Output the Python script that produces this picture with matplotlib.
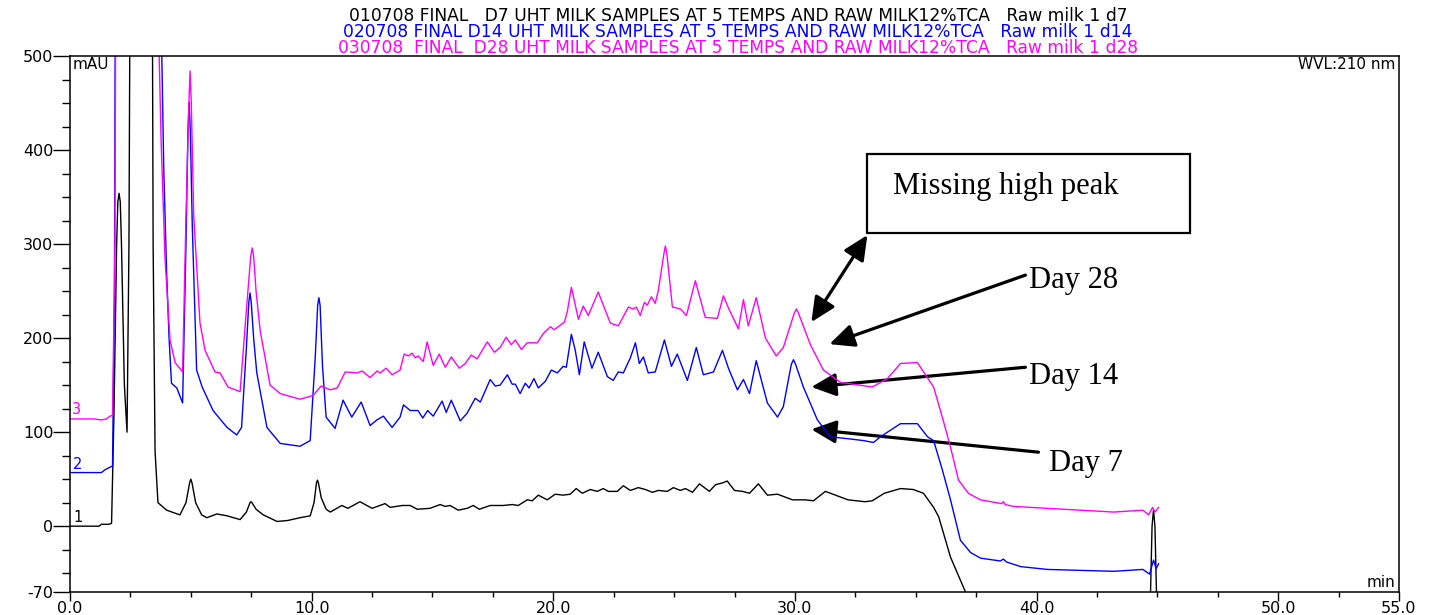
import numpy as np
import matplotlib
matplotlib.use("Agg")
import matplotlib.pyplot as plt
from matplotlib.patches import Rectangle, FancyArrowPatch
from matplotlib.ticker import MultipleLocator, FixedLocator, FormatStrFormatter

"""
Chromatogram overlay: raw milk 1 at day 7, day 14 and day 28 (WVL 210 nm).
Values read off the printed trace by eye.
"""

# Retention time (min) and signal (mAU) for each run
# Day 7 (trace 1)
d7_time = [0.0, 1.2, 1.3, 1.6, 1.72, 1.82, 1.93, 1.98, 2.03, 2.08, 2.13, 2.25, 2.36, 2.44, 2.52,
           3.38, 3.44, 3.52, 3.64, 4.0, 4.55, 4.8, 4.95, 5.0, 5.05, 5.2, 5.45, 5.66, 6.08, 6.5,
           7.04, 7.3, 7.45, 7.49, 7.53, 7.7, 8.0, 8.57, 9.0, 9.52, 9.94, 10.1, 10.2, 10.24,
           10.28, 10.4, 10.6, 10.77, 11.25, 11.5, 12.0, 12.5,
           13.04, 13.25, 13.75, 14.08, 14.37, 14.9, 15.32, 15.53, 15.73, 16.07, 16.44, 16.69,
           16.94, 17.39, 17.93, 18.3, 18.55, 18.92, 19.13, 19.38, 19.75, 20.08, 20.41, 20.7,
           20.95, 21.2, 21.53, 21.82, 22.07, 22.28, 22.65, 22.9, 23.19, 23.52, 23.81, 24.1,
           24.35, 24.72, 24.97, 25.26, 25.47, 25.76, 26.05, 26.46, 26.71, 27.0, 27.2, 27.5,
           27.83, 28.12, 28.49, 28.86, 29.28, 29.9, 30.43, 30.77, 31.26, 31.68, 32.2, 32.9,
           33.2, 33.7, 34.37, 34.9, 35.32, 35.74, 35.95, 36.44, 37.06, 37.3, 44.7, 44.78,
           44.84, 44.9, 44.98, 45.2]
d7_mau = [0, 0, 2, 2, 3, 120, 300, 345, 354, 345, 300, 150, 100, 300, 800,
          800, 300, 80, 25, 17, 12, 25, 46, 50, 46, 25, 12, 9, 13, 11,
          7, 15, 25, 26, 25, 18, 12, 5, 6, 9, 11, 25, 46, 49,
          46, 30, 18, 15, 22, 19, 26, 19,
          24, 20, 22, 22, 18, 19, 23, 21, 22, 17, 19, 22,
          18, 22, 22, 23, 22, 28, 27, 33, 28, 34, 33, 34,
          40, 35, 39, 37, 40, 37, 37, 43, 38, 41, 39, 36,
          38, 37, 41, 38, 40, 36, 45, 37, 44, 46, 48, 38,
          37, 35, 45, 33, 34, 28, 28, 27, 37, 33, 28, 26,
          27, 35, 40, 39, 35, 20, 10, -33, -70, -90, -90, 0,
          17, 0, -90, -90]

# Day 14 (trace 2)
d14_time = [0.0, 1.3, 1.45, 1.6, 1.76, 1.84, 1.9, 3.75, 3.8, 3.88, 4.0, 4.1, 4.2, 4.42, 4.66,
            4.8, 4.88, 4.93, 4.98, 5.06, 5.24, 5.47, 5.92, 6.5, 6.9, 7.1, 7.3, 7.4, 7.45, 7.5,
            7.6, 7.73, 8.15, 8.7, 9.52, 9.94, 10.15, 10.25, 10.3, 10.35, 10.45, 10.6, 10.97,
            11.3, 11.66, 12.05, 12.42, 12.7,
            12.97, 13.33, 13.66, 13.8, 14.08, 14.4, 14.6, 14.8, 15.03, 15.4, 15.57, 15.78,
            16.15, 16.43, 16.77, 16.98, 17.39, 17.6, 17.8, 18.1, 18.3, 18.43, 18.63, 18.84,
            19.0, 19.2, 19.38, 19.67, 19.92, 20.17, 20.41, 20.54, 20.75, 20.91, 21.08, 21.28,
            21.6, 21.86, 22.24, 22.48, 22.69, 22.9, 23.19, 23.4, 23.56, 23.73, 23.93, 24.22,
            24.6, 24.89, 25.13, 25.55, 25.92, 26.21, 26.63, 27.0, 27.25, 27.62, 27.87, 28.12,
            28.4, 28.86, 29.28, 29.52, 29.85, 29.94, 30.03, 30.35, 30.93, 31.47, 32.2, 32.84,
            33.25, 33.54, 33.95, 34.37, 35.07, 35.49, 35.74, 36.1, 36.44, 36.85, 37.27, 37.68,
            38.5, 38.63, 38.75, 39.34, 40.45, 43.2, 44.4, 44.68, 44.84, 44.95, 45.05]
d14_mau = [57, 57, 60, 62, 64, 250, 800, 800, 500, 380, 269, 200, 152, 147, 131,
           300, 420, 451, 420, 320, 166, 148, 123, 105, 97, 105, 190, 238, 248, 238,
           200, 163, 105, 88, 85, 91, 180, 235, 243, 235, 170, 116, 104,
           134, 116, 132, 107, 113,
           117, 105, 116, 129, 123, 123, 115, 123, 117, 133, 121, 134,
           112, 120, 136, 132, 156, 149, 150, 161, 151, 151, 141, 152,
           147, 157, 147, 154, 166, 163, 170, 169, 204, 187, 161, 196,
           168, 185, 159, 155, 164, 163, 179, 195, 173, 180, 163, 164,
           198, 170, 183, 155, 190, 161, 164, 187, 168, 145, 156, 141,
           176, 131, 116, 127, 172, 177, 172, 148, 113, 95, 93, 91,
           89, 95, 102, 109, 109, 95, 91, 60, 28, -15, -28, -34,
           -37, -35, -38, -43, -46, -48, -46, -51, -36, -45, -40]

# Day 28 (trace 3)
d28_time = [0.0, 1.0, 1.3, 1.5, 1.66, 1.76, 1.86, 1.92, 3.65, 3.69, 3.77, 3.93, 4.14, 4.35,
            4.66, 4.8, 4.92, 4.97, 5.02, 5.12, 5.38, 5.59, 6.0, 6.21, 6.54, 7.04, 7.3, 7.48,
            7.54, 7.6, 7.7, 7.87,
            8.28, 8.7, 9.52, 10.06, 10.39, 10.77, 11.06, 11.39, 11.88, 12.09, 12.42, 12.71,
            12.84, 13.08, 13.33, 13.66, 13.83, 14.0, 14.16, 14.29, 14.41, 14.62, 14.78, 15.03,
            15.28, 15.53, 15.78, 16.11, 16.36, 16.6, 16.85, 17.27, 17.56, 17.8, 18.05, 18.26,
            18.43, 18.68, 18.92, 19.34, 19.59, 19.88, 20.04, 20.25, 20.46, 20.58, 20.75, 21.04,
            21.24, 21.45, 21.86, 22.36, 22.69, 23.11, 23.31, 23.44, 23.6, 23.77, 23.89, 24.06,
            24.22, 24.35, 24.58, 24.64, 24.7, 24.93, 25.26, 25.51, 25.88, 26.29, 26.79, 27.04,
            27.25, 27.66, 27.87, 28.07, 28.4, 28.78, 29.23, 29.52, 29.98, 30.06, 30.14, 30.64,
            31.18, 31.88, 33.2, 33.83, 34.37, 35.07, 35.4, 35.74, 36.1, 36.44, 36.77, 37.18,
            37.68, 38.55, 38.63, 38.7, 39.05, 40.45, 41.8, 43.2, 44.4, 44.64, 44.8, 44.9, 45.05]
d28_mau = [114, 114, 113, 114, 117, 118, 300, 800, 800, 500, 410, 286, 198, 174,
           164, 330, 450, 484, 450, 330, 216, 187, 164, 163, 148, 143, 230, 287,
           296, 287, 250, 208,
           150, 141, 135, 139, 149, 145, 147, 164, 163, 165, 158, 165,
           163, 168, 161, 166, 183, 181, 184, 179, 181, 175, 196, 171,
           183, 169, 180, 168, 173, 182, 178, 196, 185, 190, 201, 193,
           198, 188, 195, 195, 205, 212, 209, 213, 217, 228, 254, 220,
           234, 224, 249, 216, 213, 233, 231, 233, 224, 238, 235, 244,
           237, 251, 290, 298, 290, 233, 231, 224, 261, 222, 221, 245,
           232, 210, 241, 213, 243, 200, 181, 190, 227, 231, 227, 193,
           166, 153, 148, 157, 173, 174, 161, 148, 116, 84, 49, 35,
           28, 24, 26, 23, 21, 19, 17, 15, 17, 12, 20, 15, 20]

TITLES = ["010708 FINAL   D7 UHT MILK SAMPLES AT 5 TEMPS AND RAW MILK12%TCA   Raw milk 1 d7",
          "020708 FINAL D14 UHT MILK SAMPLES AT 5 TEMPS AND RAW MILK12%TCA   Raw milk 1 d14",
          "030708  FINAL  D28 UHT MILK SAMPLES AT 5 TEMPS AND RAW MILK12%TCA   Raw milk 1 d28"]
COLORS = ["black", "#0000ff", "#ff00ff"]

W, H = 1436, 615
fig = plt.figure(figsize=(W / 100, H / 100), dpi=100)
ax = fig.add_axes([70 / W, 1 - 592 / H, (1399 - 70) / W, (592 - 56) / H])

# Traces
ax.plot(d7_time, d7_mau, color=COLORS[0], lw=1.0)
ax.plot(d14_time, d14_mau, color=COLORS[1], lw=1.0)
ax.plot(d28_time, d28_mau, color=COLORS[2], lw=1.0)

ax.set_xlim(0, 55)
ax.set_ylim(-70, 500)

# Axis ticks
ax.xaxis.set_major_locator(FixedLocator([0, 10, 20, 30, 40, 50, 55]))
ax.xaxis.set_major_formatter(FormatStrFormatter("%.1f"))
ax.xaxis.set_minor_locator(MultipleLocator(2.5))
ax.yaxis.set_major_locator(FixedLocator([-70, 0, 100, 200, 300, 400, 500]))
ax.yaxis.set_major_formatter(FormatStrFormatter("%d"))
ax.yaxis.set_minor_locator(MultipleLocator(25))
ax.tick_params(axis="x", which="major", length=6.5, width=1, direction="out", labelsize=11.5, pad=0)
ax.tick_params(axis="x", which="minor", length=3.5, width=1, direction="out")
ax.tick_params(axis="y", which="major", length=12, width=1, direction="out", labelsize=11.5, pad=0)
ax.tick_params(axis="y", which="minor", length=6, width=1, direction="out")
for sp in ax.spines.values():
    sp.set_linewidth(1.1)

# Labels inside the frame
ax.text(0.002, 0.999, "mAU", transform=ax.transAxes, ha="left", va="top", fontsize=11)
ax.text(0.997, 0.999, "WVL:210 nm", transform=ax.transAxes, ha="right", va="top", fontsize=11)
ax.text(0.997, 0.003, "min", transform=ax.transAxes, ha="right", va="bottom", fontsize=11)
ax.text(0.15, 1, "1", color=COLORS[0], ha="left", va="bottom", fontsize=10.5)
ax.text(0.1, 58, "2", color=COLORS[1], ha="left", va="bottom", fontsize=10.5)
ax.text(0.1, 116, "3", color=COLORS[2], ha="left", va="bottom", fontsize=10.5)

# Header lines
for i, (t, c) in enumerate(zip(TITLES, COLORS)):
    fig.text(738 / W, 1 - (16 + 16 * i) / H, t, color=c, ha="center", va="center", fontsize=12.3)

# Annotation box and arrows
serif = "Liberation Serif"
ax.add_patch(Rectangle((33.0, 311.7), 13.34, 84.0, fill=False, lw=1.6, ec="black", clip_on=False))
ax.text(34.04, 361.7, "Missing high peak", family=serif, fontsize=22, ha="left", va="center")
ax.text(39.67, 261.7, "Day 28", family=serif, fontsize=22, ha="left", va="center")
ax.text(39.67, 159.6, "Day 14", family=serif, fontsize=22, ha="left", va="center")
ax.text(40.5, 67.0, "Day 7", family=serif, fontsize=22, ha="left", va="center")

arrows = [((33.0, 309.6), (30.68, 217.0), "<|-|>"),
          ((39.54, 267.0), (31.43, 193.6), "-|>"),
          ((39.54, 169.0), (30.68, 148.0), "-|>"),
          ((40.08, 78.7), (30.68, 103.0), "-|>")]
for start, end, style in arrows:
    ax.add_patch(FancyArrowPatch(start, end, arrowstyle=style + ",head_length=0.75,head_width=0.35",
                                 mutation_scale=20, lw=2.3, color="black", shrinkA=0, shrinkB=0,
                                 clip_on=False))

fig.savefig("out.png", dpi=100)
